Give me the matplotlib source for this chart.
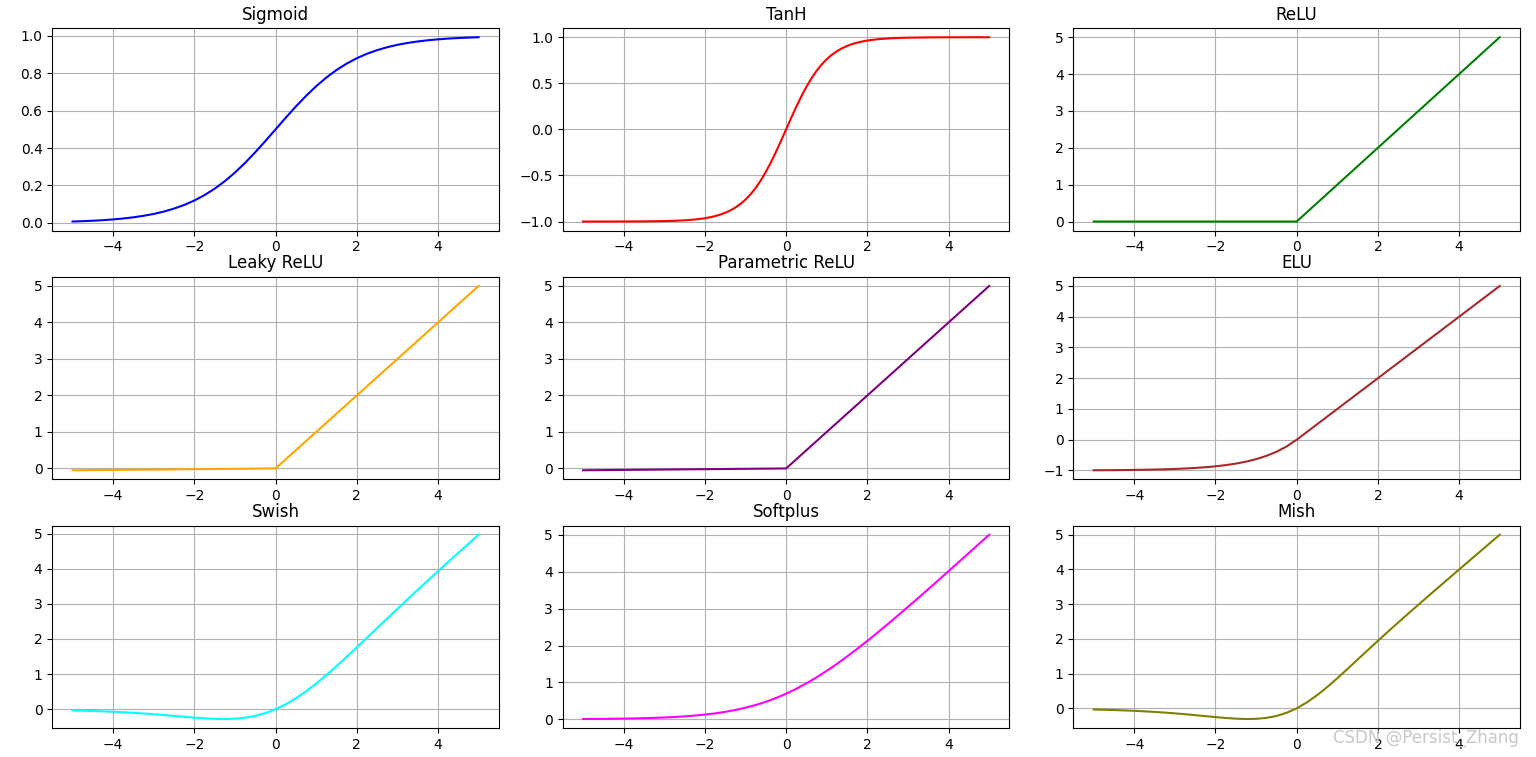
import matplotlib
matplotlib.use("Agg")
import matplotlib.pyplot as plt

# sample positions shared by most curves
x = [-5.0, -4.75, -4.5, -4.25, -4.0, -3.75, -3.5, -3.25, -3.0, -2.75, -2.5,
     -2.25, -2.0, -1.75, -1.5, -1.25, -1.0, -0.75, -0.5, -0.25, 0.0,
     0.25, 0.5, 0.75, 1.0, 1.25, 1.5, 1.75, 2.0, 2.25, 2.5,
     2.75, 3.0, 3.25, 3.5, 3.75, 4.0, 4.25, 4.5, 4.75, 5.0]

# tanh bends sharply, so it gets finer samples in the middle
x_tanh = [-5.0, -4.5, -4.0, -3.5, -3.0, -2.75, -2.5, -2.25, -2.0,
          -1.875, -1.75, -1.625, -1.5, -1.375, -1.25, -1.125, -1.0,
          -0.875, -0.75, -0.625, -0.5, -0.375, -0.25, -0.125, 0.0,
          0.125, 0.25, 0.375, 0.5, 0.625, 0.75, 0.875, 1.0,
          1.125, 1.25, 1.375, 1.5, 1.625, 1.75, 1.875, 2.0,
          2.25, 2.5, 2.75, 3.0, 3.5, 4.0, 4.5, 5.0]

sigmoid = [0.0067, 0.0086, 0.0110, 0.0140, 0.0180, 0.0230, 0.0293, 0.0373, 0.0474, 0.0601, 0.0759,
           0.0953, 0.1192, 0.1480, 0.1824, 0.2227, 0.2689, 0.3208, 0.3775, 0.4378, 0.5,
           0.5622, 0.6225, 0.6792, 0.7311, 0.7773, 0.8176, 0.8520, 0.8808, 0.9047, 0.9241,
           0.9399, 0.9526, 0.9627, 0.9707, 0.9770, 0.9820, 0.9860, 0.9890, 0.9914, 0.9933]

tanh = [-0.9999, -0.9998, -0.9993, -0.9982, -0.9951, -0.9919, -0.9866, -0.9780, -0.9640,
        -0.9540, -0.9414, -0.9253, -0.9051, -0.8798, -0.8483, -0.8093, -0.7616,
        -0.7039, -0.6351, -0.5546, -0.4621, -0.3584, -0.2449, -0.1244, 0.0,
        0.1244, 0.2449, 0.3584, 0.4621, 0.5546, 0.6351, 0.7039, 0.7616,
        0.8093, 0.8483, 0.8798, 0.9051, 0.9253, 0.9414, 0.9540, 0.9640,
        0.9780, 0.9866, 0.9919, 0.9951, 0.9982, 0.9993, 0.9998, 0.9999]

relu = [0.0] * 21 + [0.25, 0.5, 0.75, 1.0, 1.25, 1.5, 1.75, 2.0, 2.25, 2.5,
                     2.75, 3.0, 3.25, 3.5, 3.75, 4.0, 4.25, 4.5, 4.75, 5.0]

leaky = [-0.05, -0.0475, -0.045, -0.0425, -0.04, -0.0375, -0.035, -0.0325, -0.03, -0.0275, -0.025,
         -0.0225, -0.02, -0.0175, -0.015, -0.0125, -0.01, -0.0075, -0.005, -0.0025, 0.0,
         0.25, 0.5, 0.75, 1.0, 1.25, 1.5, 1.75, 2.0, 2.25, 2.5,
         2.75, 3.0, 3.25, 3.5, 3.75, 4.0, 4.25, 4.5, 4.75, 5.0]

prelu = [-0.05, -0.0475, -0.045, -0.0425, -0.04, -0.0375, -0.035, -0.0325, -0.03, -0.0275, -0.025,
         -0.0225, -0.02, -0.0175, -0.015, -0.0125, -0.01, -0.0075, -0.005, -0.0025, 0.0,
         0.25, 0.5, 0.75, 1.0, 1.25, 1.5, 1.75, 2.0, 2.25, 2.5,
         2.75, 3.0, 3.25, 3.5, 3.75, 4.0, 4.25, 4.5, 4.75, 5.0]

elu = [-0.9933, -0.9913, -0.9889, -0.9857, -0.9817, -0.9765, -0.9698, -0.9612, -0.9502, -0.9361, -0.9179,
       -0.8946, -0.8647, -0.8262, -0.7769, -0.7135, -0.6321, -0.5276, -0.3935, -0.2212, 0.0,
       0.25, 0.5, 0.75, 1.0, 1.25, 1.5, 1.75, 2.0, 2.25, 2.5,
       2.75, 3.0, 3.25, 3.5, 3.75, 4.0, 4.25, 4.5, 4.75, 5.0]

swish = [-0.0335, -0.0408, -0.0495, -0.0596, -0.0719, -0.0862, -0.1025, -0.1212, -0.1423, -0.1653, -0.1897,
         -0.2145, -0.2384, -0.2590, -0.2736, -0.2784, -0.2689, -0.2406, -0.1888, -0.1095, 0.0,
         0.1405, 0.3112, 0.5094, 0.7311, 0.9716, 1.2264, 1.4910, 1.7616, 2.0355, 2.3103,
         2.5847, 2.8577, 3.1288, 3.3975, 3.6638, 3.9281, 4.1904, 4.4505, 4.7092, 4.9665]

softplus = [0.0067, 0.0086, 0.0111, 0.0142, 0.0182, 0.0233, 0.0298, 0.0380, 0.0486, 0.0620, 0.0789,
            0.1002, 0.1269, 0.1602, 0.2014, 0.2519, 0.3133, 0.3869, 0.4741, 0.5760, 0.6931,
            0.8260, 0.9741, 1.1369, 1.3133, 1.5019, 1.7014, 1.9102, 2.1269, 2.3502, 2.5789,
            2.8120, 3.0486, 3.2880, 3.5298, 3.7733, 4.0182, 4.2642, 4.5111, 4.7586, 5.0067]

mish = [-0.0336, -0.0409, -0.0497, -0.0602, -0.0726, -0.0872, -0.1041, -0.1236, -0.1456, -0.1702, -0.1968,
        -0.2247, -0.2525, -0.2780, -0.2981, -0.3084, -0.3034, -0.2765, -0.2207, -0.1299, 0.0,
        0.1696, 0.3752, 0.6100, 0.8651, 1.1319, 1.4034, 1.6749, 1.9440, 2.2095, 2.4714,
        2.7302, 2.9865, 3.2410, 3.4940, 3.7460, 3.9974, 4.2483, 4.4989, 4.7493, 4.9996]

titles = ['Sigmoid', 'TanH', 'ReLU', 'Leaky ReLU', 'Parametric ReLU', 'ELU',
          'Swish', 'Softplus', 'Mish']
curves = [sigmoid, tanh, relu, leaky, prelu, elu, swish, softplus, mish]
xs = [x, x_tanh, x, x, x, x, x, x, x]
colors = ['blue', 'red', 'green', 'orange', 'purple', 'brown', 'cyan', 'magenta', 'olive']

fig, axes = plt.subplots(3, 3, figsize=(15.36, 7.57), dpi=100)
fig.subplots_adjust(left=0.034, right=0.9896, top=0.963, bottom=0.038,
                    hspace=0.227, wspace=0.143)

for ax, xv, y, title, c in zip(axes.flat, xs, curves, titles, colors):
    ax.plot(xv, y, color=c)
    ax.set_title(title)
    ax.grid(True)

# site watermark in the bottom right corner (sits over the tick labels, as in the original)
fig.text(0.989, 0.025, 'CSDN @Persist_Zhang', ha='right', va='center',
         fontsize=12, color='#c8c8c8')

fig.savefig('out.png', dpi=100)
